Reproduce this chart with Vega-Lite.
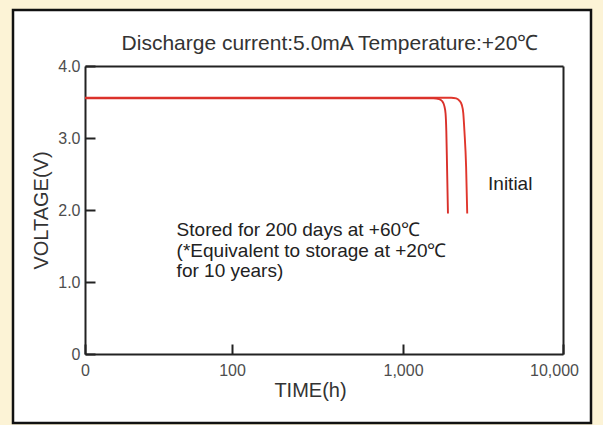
{
  "$schema": "https://vega.github.io/schema/vega-lite/v6.json",
  "width": 578,
  "height": 413,
  "autosize": {"type": "none"},
  "padding": {"left": 13, "top": 10, "right": 12, "bottom": 2},
  "background": "#fcf3d6",
  "config": {
    "view": {"stroke": "#111111", "strokeWidth": 2.5, "fill": "#ffffff"},
    "axis": {
      "grid": false,
      "domainColor": "#222222",
      "domainWidth": 2,
      "tickColor": "#222222",
      "tickWidth": 2,
      "labelColor": "#4d4d4d",
      "labelFont": "Liberation Sans",
      "labelFontSize": 16,
      "titleFont": "Liberation Sans",
      "titleFontSize": 20,
      "titleFontWeight": "normal",
      "titleColor": "#333333"
    }
  },
  "title": {
    "text": "Discharge current:5.0mA  Temperature:+20℃",
    "font": "Liberation Sans",
    "fontSize": 21,
    "fontWeight": "normal",
    "color": "#333333",
    "anchor": "middle",
    "baseline": "alphabetic",
    "offset": -61,
    "dx": 28
  },
  "datasets": {
    "curves": [
      {"series": "Initial", "time": 10, "voltage": 3.56},
      {"series": "Initial", "time": 1000, "voltage": 3.56},
      {"series": "Initial", "time": 2000, "voltage": 3.56},
      {"series": "Initial", "time": 2150, "voltage": 3.55},
      {"series": "Initial", "time": 2250, "voltage": 3.52},
      {"series": "Initial", "time": 2330, "voltage": 3.46},
      {"series": "Initial", "time": 2380, "voltage": 3.35},
      {"series": "Initial", "time": 2420, "voltage": 3.1},
      {"series": "Initial", "time": 2480, "voltage": 2.6},
      {"series": "Initial", "time": 2520, "voltage": 1.95},
      {"series": "Stored", "time": 10, "voltage": 3.55},
      {"series": "Stored", "time": 1000, "voltage": 3.55},
      {"series": "Stored", "time": 1550, "voltage": 3.55},
      {"series": "Stored", "time": 1680, "voltage": 3.54},
      {"series": "Stored", "time": 1760, "voltage": 3.51},
      {"series": "Stored", "time": 1810, "voltage": 3.45},
      {"series": "Stored", "time": 1845, "voltage": 3.34},
      {"series": "Stored", "time": 1865, "voltage": 3.1},
      {"series": "Stored", "time": 1885, "voltage": 2.6},
      {"series": "Stored", "time": 1910, "voltage": 1.95}
    ],
    "notes": [
      {"time": 42, "voltage": 1.643, "label": "Stored for 200 days at +60℃"},
      {"time": 42, "voltage": 1.351, "label": "(*Equivalent to storage at +20℃"},
      {"time": 42, "voltage": 1.074, "label": "for 10 years)"},
      {"time": 3400, "voltage": 2.278, "label": "Initial"}
    ]
  },
  "layer": [
    {
      "data": {"name": "curves"},
      "mark": {"type": "line", "strokeWidth": 1.9, "interpolate": "monotone"},
      "encoding": {
        "x": {
          "field": "time",
          "type": "quantitative",
          "scale": {"type": "log", "domain": [10, 100, 1000, 10000], "range": [72, 219, 390, 550]},
          "axis": {
            "orient": "bottom",
            "offset": -69,
            "values": [10, 100, 1000, 10000],
            "labelExpr": "datum.value == 10 ? '0' : format(datum.value, ',')",
            "labelFlush": false,
            "labelOffset": {"condition": {"test": "datum.value == 10000", "value": -9}, "value": 0},
            "tickSize": -10,
            "labelPadding": 18,
            "title": "TIME(h)",
            "titlePadding": 2,
            "titleX": 297
          }
        },
        "y": {
          "field": "voltage",
          "type": "quantitative",
          "scale": {"domain": [0, 4], "range": [344, 56], "zero": false, "nice": false},
          "axis": {
            "orient": "left",
            "offset": -72,
            "values": [0, 1, 2, 3, 4],
            "labelExpr": "datum.value == 0 ? '0' : format(datum.value, '.1f')",
            "tickSize": -10,
            "labelPadding": 15,
            "title": "VOLTAGE(V)",
            "titlePadding": 6
          }
        },
        "color": {
          "field": "series",
          "type": "nominal",
          "scale": {"domain": ["Initial", "Stored"], "range": ["#e0362c", "#d9302a"]},
          "legend": null
        }
      }
    },
    {
      "data": {"name": "notes"},
      "mark": {"type": "text", "align": "left", "baseline": "alphabetic", "font": "Liberation Sans", "fontSize": 19, "color": "#222222"},
      "encoding": {
        "x": {
          "field": "time",
          "type": "quantitative",
          "scale": {"type": "log", "domain": [10, 100, 1000, 10000], "range": [72, 219, 390, 550]},
          "axis": {"orient": "top", "offset": -56, "labels": false, "ticks": false, "title": null, "domain": true}
        },
        "y": {
          "field": "voltage",
          "type": "quantitative",
          "scale": {"domain": [0, 4], "range": [344, 56], "zero": false, "nice": false},
          "axis": {"orient": "right", "offset": -28, "labels": false, "ticks": false, "title": null, "domain": true}
        },
        "text": {"field": "label", "type": "nominal"}
      }
    }
  ],
  "resolve": {"axis": {"x": "independent", "y": "independent"}}
}
